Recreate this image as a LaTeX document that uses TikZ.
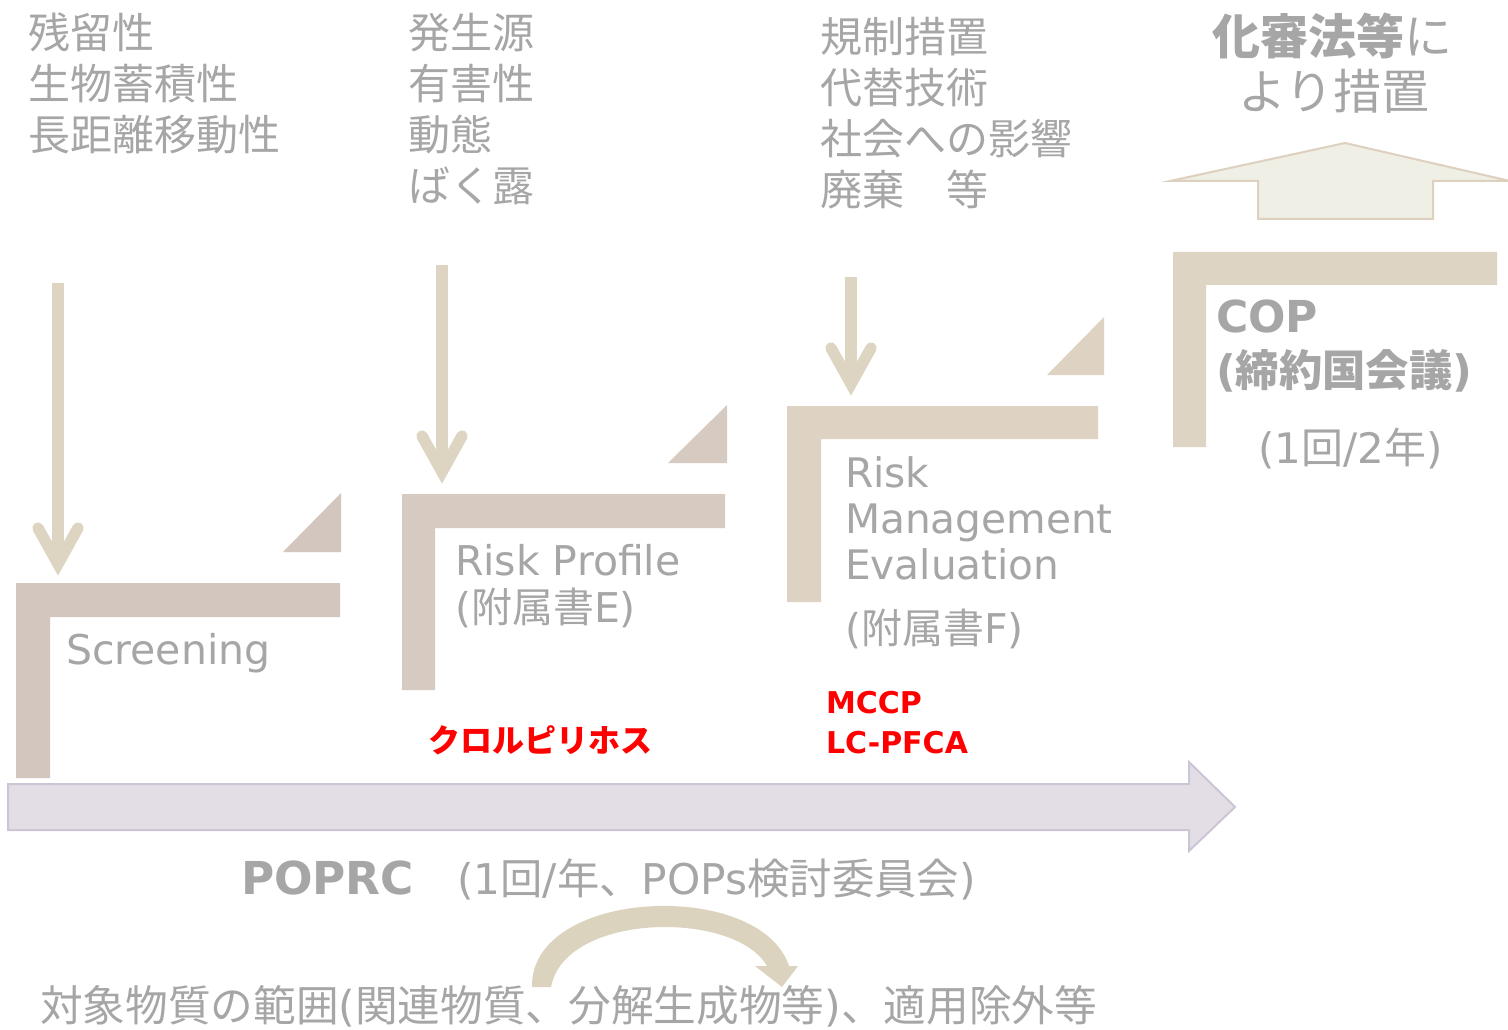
\documentclass[tikz,border=0pt]{standalone}
\usepackage{fontspec}
\setmainfont{DejaVu Sans}
\newfontfamily\jp{Noto Sans CJK JP}
\usetikzlibrary{calc}
\definecolor{txt}{HTML}{A6A6A6}
\definecolor{lscr}{HTML}{D3C6BF}
\definecolor{lrp}{HTML}{D7CBC1}
\definecolor{lrme}{HTML}{DED3C3}
\definecolor{lcop}{HTML}{DED4C4}
\definecolor{darr}{HTML}{DED4C2}
\definecolor{pfill}{HTML}{E3DEE6}
\definecolor{pline}{HTML}{CCC5D6}
\definecolor{ufill}{HTML}{F0EFE5}
\definecolor{uline}{HTML}{DDD0BE}
\definecolor{carr}{HTML}{DCD3BF}
\definecolor{redtxt}{HTML}{FF0000}
\newcommand\J[1]{{\jp #1}}
\newcommand\JB[1]{{\jp\bfseries #1}}
\newcommand\fs[1]{\fontsize{#1}{#1}\selectfont}
\begin{document}
\begin{tikzpicture}[x=0.75pt,y=-0.75pt,
  lbl/.style={inner sep=0pt, outer sep=0pt, text=txt, anchor=base west},
  redlbl/.style={inner sep=0pt, outer sep=0pt, text=redtxt, anchor=base west},
  shaftline/.style={draw=darr, line width=8.5pt, line cap=butt},
  chevron/.style={draw=darr, line width=8.5pt, line cap=round, line join=miter},
  lbar/.style={fill=#1, draw=none}]
\useasboundingbox (0,0) rectangle (1508,1030);
\fill[white] (0,0) rectangle (1508,1030);

% ---------- big POPRC arrow ----------
\filldraw[fill=pfill, draw=pline, line width=1.5pt, line join=miter]
  (8,784) -- (1189,784) -- (1189,762) -- (1235,807) -- (1189,851) -- (1189,830) -- (8,830) -- cycle;

% ---------- L shapes and triangles ----------
\fill[lbar=lscr] (16,583) -- (340,583) -- (340,617) -- (50,617) -- (50,778) -- (16,778) -- cycle;
\fill[lbar=lscr] (283,552) -- (341,552) -- (341,493) -- cycle;

\fill[lbar=lrp] (402,494) -- (725,494) -- (725,528) -- (435,528) -- (435,690) -- (402,690) -- cycle;
\fill[lbar=lrp] (668,463) -- (727,463) -- (727,405) -- cycle;

\fill[lbar=lrme] (787,406) -- (1098,406) -- (1098,439) -- (821,439) -- (821,602) -- (787,602) -- cycle;
\fill[lbar=lrme] (1047,375) -- (1104,375) -- (1104,317) -- cycle;

\fill[lbar=lcop] (1173,252) -- (1497,252) -- (1497,285) -- (1206,285) -- (1206,447) -- (1173,447) -- cycle;

% ---------- up block arrow ----------
\filldraw[fill=ufill, draw=uline, line width=1.5pt, line join=miter]
  (1345,143) -- (1510,181) -- (1433,181) -- (1433,219) -- (1258,219) -- (1258,181) -- (1170,181) -- cycle;

% ---------- down arrows ----------
\coordinate (a1top) at (58,283);  \coordinate (a1tip) at (58,564);
\coordinate (a2top) at (442,265); \coordinate (a2tip) at (442,472);
\coordinate (a3top) at (851,277); \coordinate (a3tip) at (851,384);
\foreach \a in {a1,a2,a3}{
  \draw[shaftline] (\a top) -- (\a tip);
  \draw[chevron] ($(\a tip)+(-20,-36)$) -- (\a tip) -- ($(\a tip)+(20,-36)$);
}

% ---------- curved arrow ----------
\fill[carr] (532,987) .. controls (530,888) and (760,878) .. (789,966)
  -- (798,966) -- (782,987) -- (755,966) -- (767,966)
  .. controls (735,910) and (565,912) .. (551,987) -- cycle;

% ---------- top texts ----------
\node[lbl, font=\fs{31.5}] (c1a) at (28,49)  {\J{残留性}};
\node[lbl, font=\fs{31.5}] (c1b) at (28,100) {\J{生物蓄積性}};
\node[lbl, font=\fs{31.5}] (c1c) at (28,151) {\J{長距離移動性}};

\node[lbl, font=\fs{31.5}] (c2a) at (408,49)  {\J{発生源}};
\node[lbl, font=\fs{31.5}] (c2b) at (408,100) {\J{有害性}};
\node[lbl, font=\fs{31.5}] (c2c) at (408,151) {\J{動態}};
\node[lbl, font=\fs{31.5}] (c2d) at (408,202) {\J{ばく露}};

\node[lbl, font=\fs{31.5}] (c3a) at (820,53)  {\J{規制措置}};
\node[lbl, font=\fs{31.5}] (c3b) at (820,104) {\J{代替技術}};
\node[lbl, font=\fs{31.5}] (c3c) at (820,155) {\J{社会への影響}};
\node[lbl, font=\fs{31.5}] (c3d) at (820,206) {\J{廃棄　等}};

\node[lbl, anchor=base, font=\fs{36}] (c4a) at (1332,55)  {\JB{化審法等}\J{に}};
\node[lbl, anchor=base, font=\fs{36}] (c4b) at (1334,110) {\J{より措置}};

% ---------- stage labels ----------
\node[lbl, font=\fs{30.75}] (scr) at (66,664) {Screening};

\node[lbl, font=\fs{30.75}] (rp1) at (455,575) {Risk Profile};
\node[lbl, font=\fs{30.75}] (rp2) at (455,622) {(\J{附属書}E)};

\node[lbl, font=\fs{30.5}] (rm1) at (845,487) {Risk};
\node[lbl, font=\fs{30.5}] (rm2) at (845,533) {Management};
\node[lbl, font=\fs{30.5}] (rm3) at (845,579) {Evaluation};
\node[lbl, font=\fs{30.75}] (rm4) at (845,643) {(\J{附属書}F)};

\node[lbl, font=\fs{33}] (cop1) at (1216,332) {\textbf{COP}};
\node[lbl, font=\fs{32.5}] (cop2) at (1216,386) {\textbf{(}\JB{締約国会議}\textbf{)}};
\node[lbl, font=\fs{31.5}] (cop3) at (1258,463) {(1\J{回}/2\J{年})};

% ---------- red labels ----------
\node[redlbl, font=\fs{24}] (cp) at (428,752) {\JB{クロルピリホス}};
\node[redlbl, font=\fs{22.5}] (mccp) at (826,713) {\textbf{MCCP}};
\node[redlbl, font=\fs{22.5}] (lcp) at (826,753) {\textbf{LC-PFCA}};

% ---------- bottom texts ----------
\node[lbl, font=\fs{34}] (poprc) at (241,894) {\textbf{POPRC}};
\node[lbl, font=\fs{31.75}] (poprc2) at (457,894) {(1\J{回}/\J{年、}POPs\J{検討委員会})};
\node[lbl, font=\fs{32}] (scope) at (40,1021) {\J{対象物質の範囲}(\J{関連物質、分解生成物等})\J{、適用除外等}};
\end{tikzpicture}
\end{document}
